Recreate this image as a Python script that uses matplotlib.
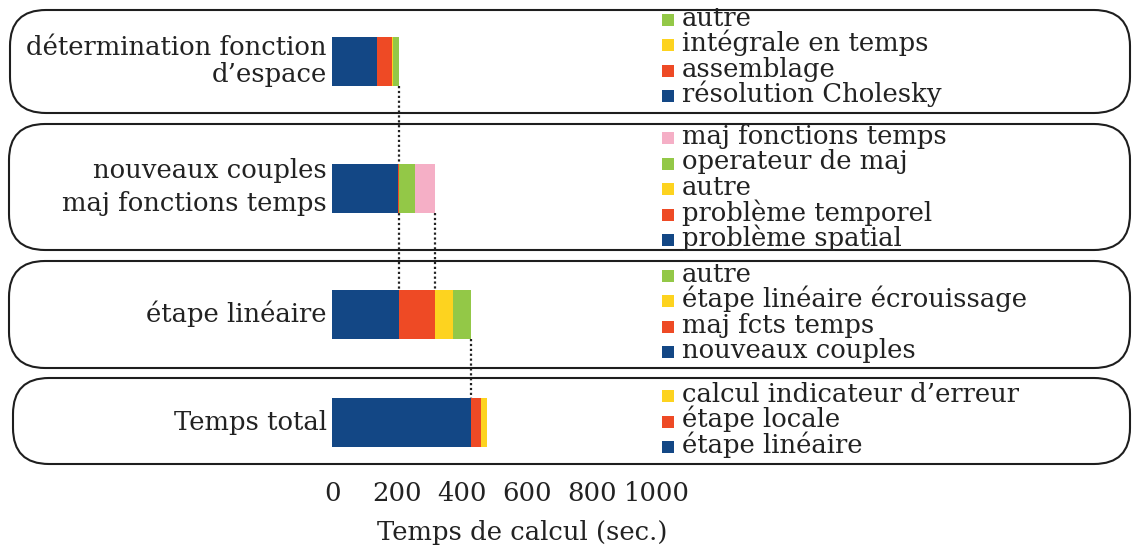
import matplotlib
matplotlib.use("Agg")
import matplotlib.pyplot as plt
from matplotlib.patches import FancyBboxPatch, Rectangle

# couleurs des composantes
BLUE = "#134785"
RED = "#ee4a25"
YELLOW = "#fdd31f"
GREEN = "#93c847"
PINK = "#f5afc6"

# étiquettes des barres (gauche)
row_labels = [
    ["détermination fonction", "d\u2019espace"],
    ["nouveaux couples", "maj fonctions temps"],
    ["étape linéaire"],
    ["Temps total"],
]

# temps de calcul (sec.) par composante, de gauche à droite
fonction_espace_names = ["résolution Cholesky", "assemblage", "intégrale en temps", "autre"]
fonction_espace_values = [138, 46, 3, 20]
fonction_espace_colors = [BLUE, RED, YELLOW, GREEN]

couples_names = ["problème spatial", "problème temporel", "autre", "operateur de maj", "maj fonctions temps"]
couples_values = [203, 2, 2, 49, 61]
couples_colors = [BLUE, RED, YELLOW, GREEN, PINK]

lineaire_names = ["nouveaux couples", "maj fcts temps", "étape linéaire écrouissage", "autre"]
lineaire_values = [207, 110, 55, 56]
lineaire_colors = [BLUE, RED, YELLOW, GREEN]

total_names = ["étape linéaire", "étape locale", "calcul indicateur d\u2019erreur"]
total_values = [428, 31, 18]
total_colors = [BLUE, RED, YELLOW]

xticks = [0, 200, 400, 600, 800, 1000]

rows = [
    (fonction_espace_names, fonction_espace_values, fonction_espace_colors),
    (couples_names, couples_values, couples_colors),
    (lineaire_names, lineaire_values, lineaire_colors),
    (total_names, total_values, total_colors),
]

# mise en page (pixels)
W, H = 1133, 548
FONT = "DejaVu Serif"
FS = 18.6
R = 36
frames = [(10, 10, 1130, 113), (9, 124, 1130, 250), (9, 261, 1130, 368), (13, 378, 1130, 464)]
bar_top = [37, 164, 290, 398]
bar_h = 49
label_baselines = [[55, 82], [178, 211], [322], [430]]
legend_baselines = [[102, 76.5, 51, 25.5], [246, 220.5, 195, 169.5, 144], [358, 332.5, 307, 281.5],
                    [453, 427.5, 402]]

fig = plt.figure(figsize=(W / 100, H / 100), dpi=100)

# fond : cadres arrondis, étiquettes et légendes en coordonnées pixel
bg = fig.add_axes([0, 0, 1, 1])
bg.set_xlim(0, W)
bg.set_ylim(H, 0)
bg.axis("off")

for (x0, y0, x1, y1) in frames:
    bg.add_patch(FancyBboxPatch((x0 + R, y0 + R), x1 - x0 - 2 * R, y1 - y0 - 2 * R,
                                boxstyle=f"round,pad={R},rounding_size={R}",
                                fc="white", ec="#1e1e1e", lw=1.5))

for lines, ys in zip(row_labels, label_baselines):
    for txt, y in zip(lines, ys):
        bg.text(327, y, txt, ha="right", va="baseline", fontsize=FS, family=FONT, color="#222222")

for (names, values, colors), ys in zip(rows, legend_baselines):
    for name, color, y in zip(names, colors, ys):
        bg.add_patch(Rectangle((662, y - 12), 12, 12, fc=color, ec="none"))
        bg.text(682, y, name, ha="left", va="baseline", fontsize=FS, family=FONT, color="#222222")

# barres empilées
ax = fig.add_axes([332 / W, 1 - 470 / H, 325 / W, 470 / H])
ax.set_xlim(0, 1000)
ax.set_ylim(470, 0)
ax.patch.set_alpha(0)
for s in ax.spines.values():
    s.set_visible(False)

ends = []
for (names, values, colors), top in zip(rows, bar_top):
    left = 0
    for v, c in zip(values, colors):
        ax.barh(top + bar_h / 2, v, height=bar_h, left=left, color=c, zorder=3)
        left += v
    ends.append(left)

# liaisons pointillées entre niveaux
dot = dict(color="#222222", lw=1.6, ls=(0, (1, 1.2)), zorder=2)
ax.plot([ends[0], ends[0]], [bar_top[0] + bar_h, bar_top[2]], **dot)
ax.plot([ends[1], ends[1]], [bar_top[1] + bar_h, bar_top[2]], **dot)
ax.plot([ends[2], ends[2]], [bar_top[2] + bar_h, bar_top[3]], **dot)

ax.set_yticks([])
ax.set_xticks(xticks)
ax.set_xticklabels([str(t) for t in xticks], fontsize=FS, family=FONT, color="#222222")
ax.tick_params(axis="x", length=0, pad=8)

fig.text(522 / W, 1 - 540 / H, "Temps de calcul (sec.)", ha="center", va="baseline",
         fontsize=FS, family=FONT, color="#222222")

fig.savefig("out.png", dpi=100)
